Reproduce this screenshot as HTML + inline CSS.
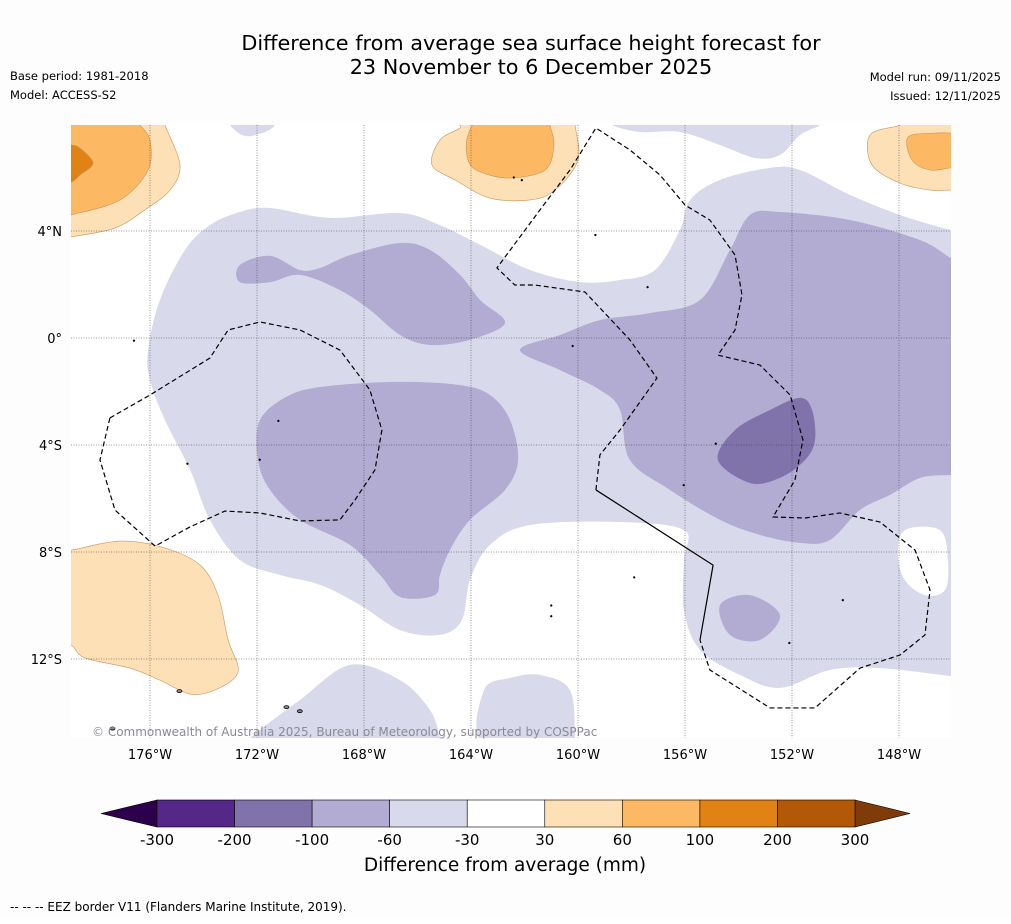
<!DOCTYPE html>
<html><head><meta charset="utf-8"><style>
body{margin:0;background:#fff;font-family:"Liberation Sans",sans-serif;}
svg text{font-family:"DejaVu Sans","Liberation Sans",sans-serif;}
</style></head><body>
<svg id="s" width="1011" height="919" viewBox="0 0 1011 919" xmlns="http://www.w3.org/2000/svg">
<rect width="1011" height="919" fill="#fdfdfd"/>
<text x="531" y="50" text-anchor="middle" font-size="20.8" fill="#000">Difference from average sea surface height forecast for</text>
<text x="531" y="74" text-anchor="middle" font-size="20.8" fill="#000">23 November to 6 December 2025</text>
<text x="10" y="80" font-size="11.5">Base period: 1981-2018</text>
<text x="10" y="99" font-size="11.5">Model: ACCESS-S2</text>
<text x="1001" y="81" font-size="11.5" text-anchor="end">Model run: 09/11/2025</text>
<text x="1001" y="100" font-size="11.5" text-anchor="end">Issued: 12/11/2025</text>
<defs><clipPath id="mc"><rect x="71" y="125" width="880" height="613"/></clipPath></defs>
<rect x="71" y="125" width="880" height="613" fill="#fff"/>
<g id="map" clip-path="url(#mc)"></g>
<g id="axes"></g>
<text x="92" y="736" font-size="12" fill="#8a8a96">© Commonwealth of Australia 2025, Bureau of Meteorology, supported by COSPPac</text>
<g id="cbar"></g>
<text x="505" y="871" text-anchor="middle" font-size="18.5">Difference from average (mm)</text>
<text x="10" y="911" font-size="12">--  --  -- EEZ border V11 (Flanders Marine Institute, 2019).</text>
</svg>
<script>
const NS="http://www.w3.org/2000/svg";
const lonTicks=[-176,-172,-168,-164,-160,-156,-152,-148];
const lonTickLabels=["176°W","172°W","168°W","164°W","160°W","156°W","152°W","148°W"];
const latTicks=[4,0,-4,-8,-12];
const latTickLabels=["4°N","0°","4°S","8°S","12°S"];
const cbBounds=[-300,-200,-100,-60,-30,30,60,100,200,300];
const cbColors=["#542788","#8073ac","#b2abd2","#d8daeb","#ffffff","#fee0b6","#fdb863","#e08214","#b35806"];
const cbUnder="#2d004b", cbOver="#7f3b08";
const shapes=[
 {name:"light-purple-main",c:3,p:[-176.07,-0.45,-175.63,1.42,-174.69,3.29,-173.76,4.22,-172.64,4.71,-171.51,4.86,-169.27,4.49,-166.65,4.67,-165.16,4.22,-163.66,3.48,-161.79,2.54,-159.93,2.09,-158.43,2.17,-157.12,2.54,-156.19,4.04,-155.81,5.16,-154.69,5.91,-152.82,6.36,-151.7,6.28,-149.83,5.35,-147.96,4.6,-146.06,4.04,-145.5,4,-145.5,-12.7,-146.06,-12.64,-148.71,-12.34,-150.58,-12.41,-152.45,-13.08,-153.94,-12.6,-155.44,-11.66,-156.04,-10.17,-156.04,-8.3,-156.04,-7.18,-158.43,-6.88,-161.79,-6.99,-163.29,-7.74,-164.04,-9.05,-164.34,-10.54,-165.16,-11.1,-166.65,-10.92,-168.15,-9.98,-169.64,-9.23,-171.14,-8.86,-172.64,-8.3,-173.76,-6.8,-174.5,-4.93,-175.44,-3.07,-176,-1.57]},
 {name:"neutral-hole",c:4,p:[-147.78,-7.18,-146.47,-7.18,-146.17,-8.3,-146.28,-9.42,-147.03,-9.61,-147.78,-9.05,-148.04,-8.11]},
 {name:"light-purple-top-left",c:3,p:[-173.01,8.2,-171.33,8.2,-171.33,7.96,-171.7,7.7,-172.45,7.55,-173.01,7.96]},
 {name:"light-purple-top-right",c:3,p:[-158.73,8.2,-150.95,8.2,-150.95,7.96,-151.7,7.59,-152.45,6.84,-153.38,6.73,-154.69,7.21,-156.19,7.7,-157.68,7.7,-158.73,7.96]},
 {name:"light-purple-bottom-1",c:3,p:[-172.26,-15.2,-172.26,-14.95,-170.39,-13.53,-168.52,-12.22,-166.65,-12.79,-165.53,-13.91,-165.16,-14.95,-165.16,-15.2]},
 {name:"light-purple-bottom-2",c:3,p:[-163.51,-15.2,-163.51,-13.16,-162.54,-12.71,-161.42,-12.6,-160.3,-13.16,-160.11,-14.95,-160.11,-15.2]},
 {name:"mid-purple-north",c:2,p:[-172.64,2.73,-171.51,3.07,-170.39,2.54,-169.64,2.62,-168.52,3.1,-166.65,3.55,-165.53,3.29,-164.41,2.36,-163.66,1.42,-162.73,0.56,-164.04,-0.07,-165.53,-0.26,-166.65,0.11,-167.78,1.05,-168.9,1.79,-170.39,2.36,-171.51,2.09,-172.64,2.09]},
 {name:"mid-purple-west",c:2,p:[-171.89,-3.07,-170.77,-2.13,-169.27,-1.79,-166.65,-1.64,-164.41,-1.76,-163.29,-2.13,-162.54,-3.07,-162.24,-4.56,-162.73,-5.68,-164.04,-6.8,-164.79,-7.93,-165.16,-8.86,-165.35,-9.61,-166.65,-9.68,-167.4,-8.86,-168.52,-7.74,-170.39,-6.8,-171.51,-5.68,-171.96,-4.56]},
 {name:"mid-purple-east",c:2,p:[-162.17,-0.45,-160.67,0.11,-159.18,0.67,-157.31,0.93,-155.44,1.42,-154.32,3.29,-153.57,4.6,-152.45,4.71,-149.83,4.41,-147.21,3.66,-146.06,2.99,-145.5,2.8,-145.5,-5.1,-146.06,-5.12,-147.21,-5.23,-148.34,-5.87,-149.46,-6.43,-150.58,-7.55,-151.7,-7.66,-153.2,-7.36,-154.69,-6.8,-156.56,-5.68,-158.06,-4.56,-158.43,-2.69,-159.18,-1.94,-160.67,-1.2]},
 {name:"mid-purple-south",c:2,p:[-154.69,-9.98,-153.57,-9.61,-152.45,-10.36,-153.2,-11.29,-154.32,-11.1]},
 {name:"dark-purple-core",c:1,p:[-154.77,-4.56,-154.13,-3.44,-152.82,-2.69,-151.7,-2.24,-151.25,-2.69,-151.14,-3.81,-151.51,-4.56,-152.45,-5.23,-153.57,-5.42]},
 {name:"orange-nw-light",c:5,p:[-179.5,8.2,-175.44,8.2,-175.44,7.96,-174.88,6.47,-175.25,5.53,-176.19,4.79,-177.31,4.11,-178.95,3.78,-179.5,3.7]},
 {name:"orange-nw-mid",c:6,p:[-179.5,8.2,-176.37,8.2,-176.37,7.96,-176,7.4,-176.07,6.28,-177.12,5.16,-178.95,4.6,-179.5,4.5]},
 {name:"orange-nw-dark",c:7,p:[-179.5,7.21,-178.95,7.21,-178.62,7.1,-178.13,6.54,-178.62,6.09,-178.95,5.83,-179.5,5.83]},
 {name:"orange-n-light",c:5,p:[-165.46,6.47,-165.16,7.4,-164.41,7.85,-164.2,8.2,-160.11,8.2,-160.11,7.96,-160,6.65,-160.86,5.53,-161.79,5.16,-163.29,5.23,-164.6,5.91]},
 {name:"orange-n-mid",c:6,p:[-164.11,7.59,-163.48,8.2,-161.05,8.2,-161.05,7.96,-160.9,7.21,-161.23,6.28,-162.54,5.98,-163.66,6.21,-164.11,6.65]},
 {name:"orange-ne-light",c:5,p:[-149.08,7.59,-147.96,7.96,-147.96,8.2,-145.5,8.2,-145.5,5.53,-146.06,5.53,-146.84,5.53,-147.96,5.79,-149.01,6.47]},
 {name:"orange-ne-mid",c:6,p:[-147.66,7.51,-146.65,7.66,-146.06,7.66,-145.5,7.66,-145.5,6.36,-146.06,6.36,-146.84,6.28,-147.51,6.65]},
 {name:"orange-sw-light",c:5,p:[-179.5,-7.93,-178.95,-7.93,-177.12,-7.59,-175.44,-7.85,-174.13,-8.49,-173.46,-9.61,-173.08,-11.29,-172.71,-12.49,-173.57,-13.16,-174.5,-13.31,-175.63,-12.79,-176.75,-12.34,-178.43,-11.96,-178.95,-11.48,-179.5,-11.48]}
];
const eezWest=[-177.5,-2.99,-176,-2.13,-173.76,-0.75,-173.08,0.3,-171.89,0.6,-170.39,0.3,-168.9,-0.45,-167.78,-1.94,-167.33,-3.44,-167.59,-4.93,-168.34,-6.06,-168.9,-6.8,-170.39,-6.84,-171.89,-6.54,-173.2,-6.47,-174.5,-7.06,-175.81,-7.78,-177.31,-6.43,-177.87,-4.56,-177.5,-2.99];
const eezEast=[-159.33,-5.68,-159.18,-4.37,-158.43,-3.44,-157.05,-1.5,-158.06,-0.07,-159.74,1.72,-161.61,1.98,-162.36,1.98,-163.03,2.62,-161.42,4.79,-160.3,6.28,-159.33,7.85,-158.06,7.03,-156.93,6.09,-156,4.97,-155.07,4.41,-154.13,3.1,-153.87,1.61,-154.13,0.3,-154.77,-0.64,-153.2,-1.01,-152.07,-2.13,-151.59,-3.81,-151.89,-5.31,-152.71,-6.69,-151.51,-6.73,-150.21,-6.54,-148.71,-6.88,-147.4,-7.93,-146.84,-9.42,-147.03,-11.1,-147.96,-11.85,-149.46,-12.34,-151.14,-13.83,-152.82,-13.83,-155.07,-12.41,-155.44,-11.29];
const eezSolid=[-155.44,-11.29,-154.95,-8.49,-159.33,-5.68];
const islands=[-162.4,6.0,-162.1,5.9,-159.35,3.85,-157.4,1.9,-160.2,-0.3,-156.05,-5.5,-154.85,-3.95,-157.9,-8.95,-161.0,-10.0,-161.0,-10.4,-152.1,-11.4,-150.1,-9.8,-171.9,-4.55,-171.2,-3.1,-174.6,-4.7,-176.6,-0.1,-170.9,-13.8,-170.4,-13.95,-174.9,-13.2,-177.4,-14.6];
const X=lon=>150+(lon+176)*26.75;
const Y=lat=>338-lat*26.75;
function el(t,a,p){const e=document.createElementNS(NS,t);for(const k in a)e.setAttribute(k,a[k]);p.appendChild(e);return e;}
function smooth(arr){const pts=[];for(let i=0;i<arr.length;i+=2)pts.push([X(arr[i]),Y(arr[i+1])]);const n=pts.length;let d=`M${pts[0][0]},${pts[0][1]}`;for(let i=0;i<n;i++){const p0=pts[(i-1+n)%n],p1=pts[i],p2=pts[(i+1)%n],p3=pts[(i+2)%n];const c1=[p1[0]+(p2[0]-p0[0])/6,p1[1]+(p2[1]-p0[1])/6],c2=[p2[0]-(p3[0]-p1[0])/6,p2[1]-(p3[1]-p1[1])/6];d+=`C${c1[0]},${c1[1]} ${c2[0]},${c2[1]} ${p2[0]},${p2[1]}`;}return d+"Z";}
function poly(arr){let d="";for(let i=0;i<arr.length;i+=2)d+=(i?"L":"M")+X(arr[i])+","+Y(arr[i+1]);return d;}
const map=document.getElementById("map");
shapes.forEach(s=>{const orange=s.c>=5;
 const e=el("path",{d:smooth(s.p),fill:cbColors[s.c],stroke:orange?"#c9945a":"none","stroke-width":orange?0.6:0},map);
 
 });
lonTicks.forEach(l=>{const e=el("line",{x1:X(l),x2:X(l),y1:125,y2:738,stroke:"#333","stroke-width":0.5,"stroke-dasharray":"1,1.5"},map);
 
 });
latTicks.forEach(l=>{const e=el("line",{x1:71,x2:951,y1:Y(l),y2:Y(l),stroke:"#333","stroke-width":0.5,"stroke-dasharray":"1,1.5"},map);
 
 });
for(let i=0;i<islands.length;i+=2){const big=i>=32;const e=el("ellipse",{cx:X(islands[i]),cy:Y(islands[i+1]),rx:big?2.5:1,ry:big?1.5:1,fill:big?"#888":"#000",stroke:"#000","stroke-width":big?0.8:0.3},map);
 
 }
[[eezWest,"eez-border-west"],[eezEast,"eez-border-east"]].forEach(([a,n])=>{const e=el("path",{d:poly(a),fill:"none",stroke:"#000","stroke-width":1.2,"stroke-dasharray":"5,3"},map);
 
 });
const es=el("path",{d:poly(eezSolid),fill:"none",stroke:"#000","stroke-width":1.2},map);


const axes=document.getElementById("axes");
lonTicks.forEach((l,i)=>{const t=el("text",{x:X(l),y:759,"text-anchor":"middle","font-size":13},axes);t.textContent=lonTickLabels[i];
 
 });
latTicks.forEach((l,i)=>{const t=el("text",{x:62,y:Y(l)+5,"text-anchor":"end","font-size":13},axes);t.textContent=latTickLabels[i];
 
 });
const cb=document.getElementById("cbar");const cx0=157,cx1=855,cy0=800,cy1=827,nb=cbColors.length,bw=(cx1-cx0)/nb;
const CX=i=>cx0+i*bw;
const lt=el("path",{d:`M${cx0},${cy0}L${cx0-56},${(cy0+cy1)/2}L${cx0},${cy1}Z`,fill:cbUnder,stroke:"#000","stroke-width":0.6},cb);


const rt=el("path",{d:`M${cx1},${cy0}L${cx1+55},${(cy0+cy1)/2}L${cx1},${cy1}Z`,fill:cbOver,stroke:"#000","stroke-width":0.6},cb);


cbColors.forEach((c,i)=>{const r=el("rect",{x:CX(i),y:cy0,width:bw,height:cy1-cy0,fill:c,stroke:"#000","stroke-width":0.6},cb);
 
 });
cbBounds.forEach((b,i)=>{const t=el("text",{x:CX(i),y:845,"text-anchor":"middle","font-size":15},cb);t.textContent=b;
 
 });
</script>
</body></html>
